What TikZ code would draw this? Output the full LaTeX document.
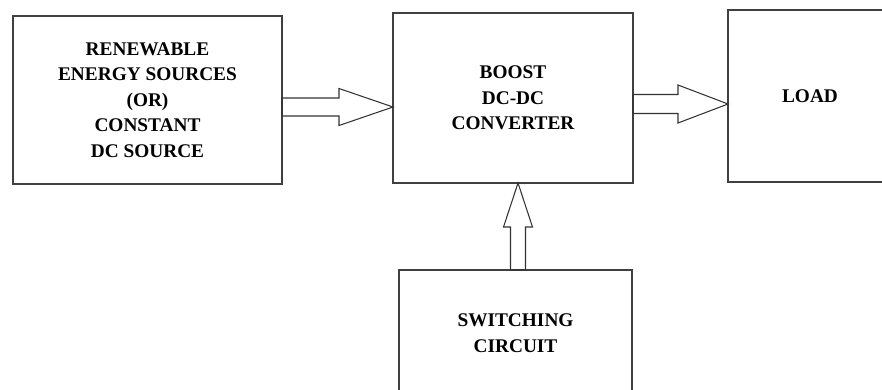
\documentclass[tikz,border=0pt]{standalone}
\usepackage{fontspec}
\setmainfont{Liberation Serif}
\usetikzlibrary{calc}

\begin{document}
\begin{tikzpicture}[x=0.02cm,y=-0.02cm,
  font=\fontsize{11}{14.5}\selectfont\bfseries,
  block/.style 2 args={draw=black!75,line width=0.7pt,inner sep=0pt,outer sep=0pt,align=center,
    minimum width=#1*0.02cm,minimum height=#2*0.02cm},
  harrow/.style n args={3}{draw=black!80,line width=0.6pt,to path={let \p1=(\tikztostart),\p2=(\tikztotarget) in
    (\x1,\y1+#1) -- (\x2-#3,\y1+#1) -- (\x2-#3,\y1+#2) -- (\x2,\y2) -- (\x2-#3,\y1-#2) -- (\x2-#3,\y1-#1) -- (\x1,\y1-#1) -- cycle}},
  varrow/.style n args={3}{draw=black!80,line width=0.6pt,to path={let \p1=(\tikztostart),\p2=(\tikztotarget) in
    (\x1-#1,\y1) -- (\x1-#1,\y2-#3) -- (\x1-#2,\y2-#3) -- (\x2,\y2) -- (\x1+#2,\y2-#3) -- (\x1+#1,\y2-#3) -- (\x1+#1,\y1) -- cycle}}]
  \useasboundingbox (0,0) rectangle (882,389);
  \clip (0,0) rectangle (882,389);
  % blocks
  \node[block={269}{168}] (src) at (147.5,100) {RENEWABLE\\ENERGY SOURCES\\(OR)\\CONSTANT\\DC SOURCE};
  \node[block={240}{170}] (conv) at (513,98) {BOOST\\DC-DC\\CONVERTER};
  \node[block={164}{172}] (load) at (810,96) {LOAD};
  \node[block={233}{126}] (sw) at (515.5,333) {SWITCHING\\CIRCUIT};
  % ---- hollow arrows
  \draw[harrow={0.18cm}{0.37cm}{1.08cm}] (src.east |- 0,107) to (conv.west |- 0,107);
  \draw[harrow={0.19cm}{0.38cm}{1.0cm}] (conv.east |- 0,104) to (load.west |- 0,104);
  \draw[varrow={0.15cm}{0.29cm}{0.88cm}] (sw.north -| 518,0) to (conv.south -| 518,0);
\end{tikzpicture}
\end{document}
